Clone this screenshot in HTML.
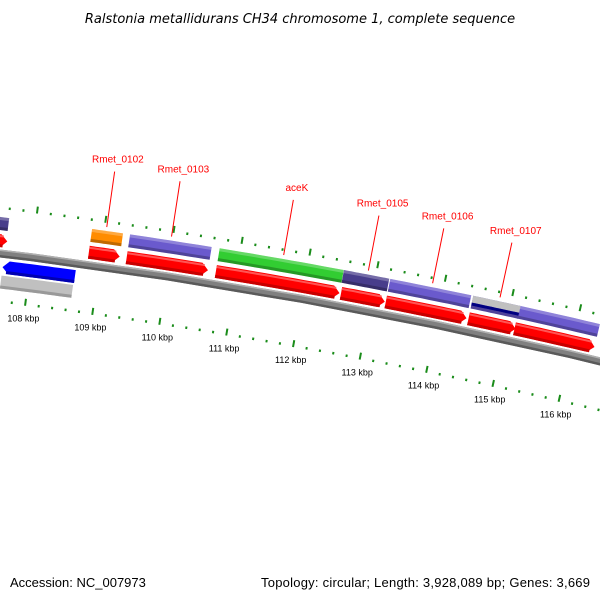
<!DOCTYPE html>
<html><head><meta charset="utf-8"><style>
html,body{margin:0;padding:0;background:#fff;}
svg{display:block;font-family:"Liberation Sans","DejaVu Sans",sans-serif;}
</style></head><body>
<svg id="map" width="600" height="600" viewBox="0 0 600 600">
<text x="300" y="23" text-anchor="middle" font-size="13" font-style="italic" fill="#000" style="font-family:'DejaVu Sans',sans-serif">Ralstonia metallidurans CH34 chromosome 1, complete sequence</text>
<g id="layer"></g>
<text x="10" y="587" font-size="13" fill="#000">Accession: NC_007973</text>
<text x="590" y="587" font-size="13" text-anchor="end" fill="#000" textLength="329">Topology: circular; Length: 3,928,089 bp; Genes: 3,669</text>
</svg>
<script>
// ---- data ----
const fwdStarts = [106930, 108823, 109380, 110697, 112550, 113215, 114445, 115133];
const fwdEnds   = [107623, 109277, 110580, 112527, 113201, 114416, 115148, 116330];
const cogStarts = [106930, 108823, 109380, 110697, 112530, 113215, 114445, 115133];
const cogEnds   = [107608, 109277, 110580, 112527, 113200, 114416, 115148, 116330];
const cogColors = ["#483d8b", "#ff8c00", "#6a5acd", "#32cd32", "#483d8b", "#6a5acd", "#6a5acd", "#6a5acd"];
const revStarts = [107600];
const revEnds   = [108670];
const greyStarts = [107600];
const greyEnds   = [108660];
const tickKbp = [107, 108, 109, 110, 111, 112, 113, 114, 115, 116, 117];
const geneNames = ["Rmet_0102", "Rmet_0103", "aceK", "Rmet_0105", "Rmet_0106", "Rmet_0107"];
const geneBp    = [109030, 109980, 111630, 112880, 113830, 114830];

// ---- geometry ----
const CX = -672, CY = 5712, R0 = 5500, PHIM = Math.atan2(-5412, 973.5), PXBP = 0.0684, BPMID = 112000;
function P(bp, d){
  const phi = PHIM + (bp - BPMID) * PXBP / R0;
  const r = R0 + d;
  return [CX + r*Math.cos(phi), CY + r*Math.sin(phi)];
}
const NS = "http://www.w3.org/2000/svg";
const layer = document.getElementById('layer');
function band(b1, b2, d1, d2, dir, color, name){
  const n = 12, pts = [];
  const head = 95;
  let s1 = b1, s2 = b2;
  if (dir === 1) s2 = b2 - head;
  if (dir === -1) s1 = b1 + head;
  for (let i=0;i<=n;i++){ pts.push(P(s1+(s2-s1)*i/n, d2)); }
  if (dir === 1) pts.push(P(b2, (d1+d2)/2));
  for (let i=n;i>=0;i--){ pts.push(P(s1+(s2-s1)*i/n, d1)); }
  if (dir === -1) pts.push(P(b1, (d1+d2)/2));
  const el = document.createElementNS(NS,'polygon');
  el.setAttribute('points', pts.map(p=>p[0].toFixed(1)+','+p[1].toFixed(1)).join(' '));
  el.setAttribute('fill', color);
  
  
  layer.appendChild(el);
  return el;
}
function line(p1, p2, color, w, name){
  const el = document.createElementNS(NS,'line');
  el.setAttribute('x1', p1[0]); el.setAttribute('y1', p1[1]);
  el.setAttribute('x2', p2[0]); el.setAttribute('y2', p2[1]);
  el.setAttribute('stroke', color); el.setAttribute('stroke-width', w);
  
  
  layer.appendChild(el);
}

// backbone
band(100000, 124000, -4, 4, 0, "#808080", "backbone");
band(100000, 124000, -4, -1.5, 0, "#5a5a5a", "backbone-shade");
band(100000, 124000, 2.5, 4, 0, "#b0b0b0", "backbone-highlight");

// forward CDS
for (let i=0;i<fwdStarts.length;i++){
  band(fwdStarts[i], fwdEnds[i], 6, 19, 1, "#ff0000", "forward-cds");
  band(fwdStarts[i], fwdEnds[i]-60, 6, 9, 0, "#c80000", "forward-cds-shade");
  band(fwdStarts[i], fwdEnds[i]-60, 16, 18, 0, "#ff5555", "forward-cds-highlight");
}
// colored features
for (let i=0;i<cogStarts.length;i++){
  band(cogStarts[i], cogEnds[i], 23, 36, 0, cogColors[i], "feature-" + i);
  band(cogStarts[i], cogEnds[i], 23, 26, 0, "rgba(0,0,0,0.25)", "feature-shade");
  band(cogStarts[i], cogEnds[i], 33, 36, 0, "rgba(255,255,255,0.25)", "feature-highlight");
}
band(114445, 115148, 29, 36, 0, "#c0c0c0", "misc-feature-grey");
band(114445, 115148, 26, 29, 0, "#000080", "misc-feature-navy");
// reverse strand
for (let i=0;i<revStarts.length;i++){
  band(revStarts[i], revEnds[i], -20, -7, -1, "#0000ff", "reverse-cds");
  band(revStarts[i]+60, revEnds[i], -20, -17, 0, "#0000b0", "reverse-cds-shade");
}
for (let i=0;i<greyStarts.length;i++){
  band(greyStarts[i], greyEnds[i], -35, -22, 0, "#c0c0c0", "reverse-feature-grey");
  band(greyStarts[i], greyEnds[i], -35, -32, 0, "#999999", "reverse-feature-grey-shade");
}
// rulers
for (let k=0;k<tickKbp.length;k++){
  for (let j=0;j<5;j++){
    const bp = tickKbp[k]*1000 + j*200;
    if (j===0){
      line(P(bp,44), P(bp,51), "#1a8c1a", 2, "outer-major-tick");
      line(P(bp,-42), P(bp,-49), "#1a8c1a", 2, "inner-major-tick");
      const t = document.createElementNS(NS,'text');
      const p = P(bp,-62);
      t.setAttribute('x', p[0]); t.setAttribute('y', p[1]+3);
      t.setAttribute('font-size', '9'); t.setAttribute('text-anchor','middle'); t.setAttribute('fill','#000');
      t.textContent = tickKbp[k] + " kbp";
      
      
      layer.appendChild(t);
    } else {
      line(P(bp,44), P(bp,46.5), "#1a8c1a", 2, "outer-minor-tick");
      line(P(bp,-46.5), P(bp,-49), "#1a8c1a", 2, "inner-minor-tick");
    }
  }
}
// gene labels
for (let i=0;i<geneNames.length;i++){
  const a = P(geneBp[i], 40), b = P(geneBp[i], 96);
  line(a, b, "#ff0000", 1, "gene-label-line");
  const t = document.createElementNS(NS,'text');
  const c = P(geneBp[i], 105);
  t.setAttribute('x', c[0]+2); t.setAttribute('y', c[1]);
  t.setAttribute('font-size', '10'); t.setAttribute('text-anchor','middle'); t.setAttribute('fill','#ff0000');
  t.textContent = geneNames[i];
  
  
  layer.appendChild(t);
}
</script>
</body></html>
